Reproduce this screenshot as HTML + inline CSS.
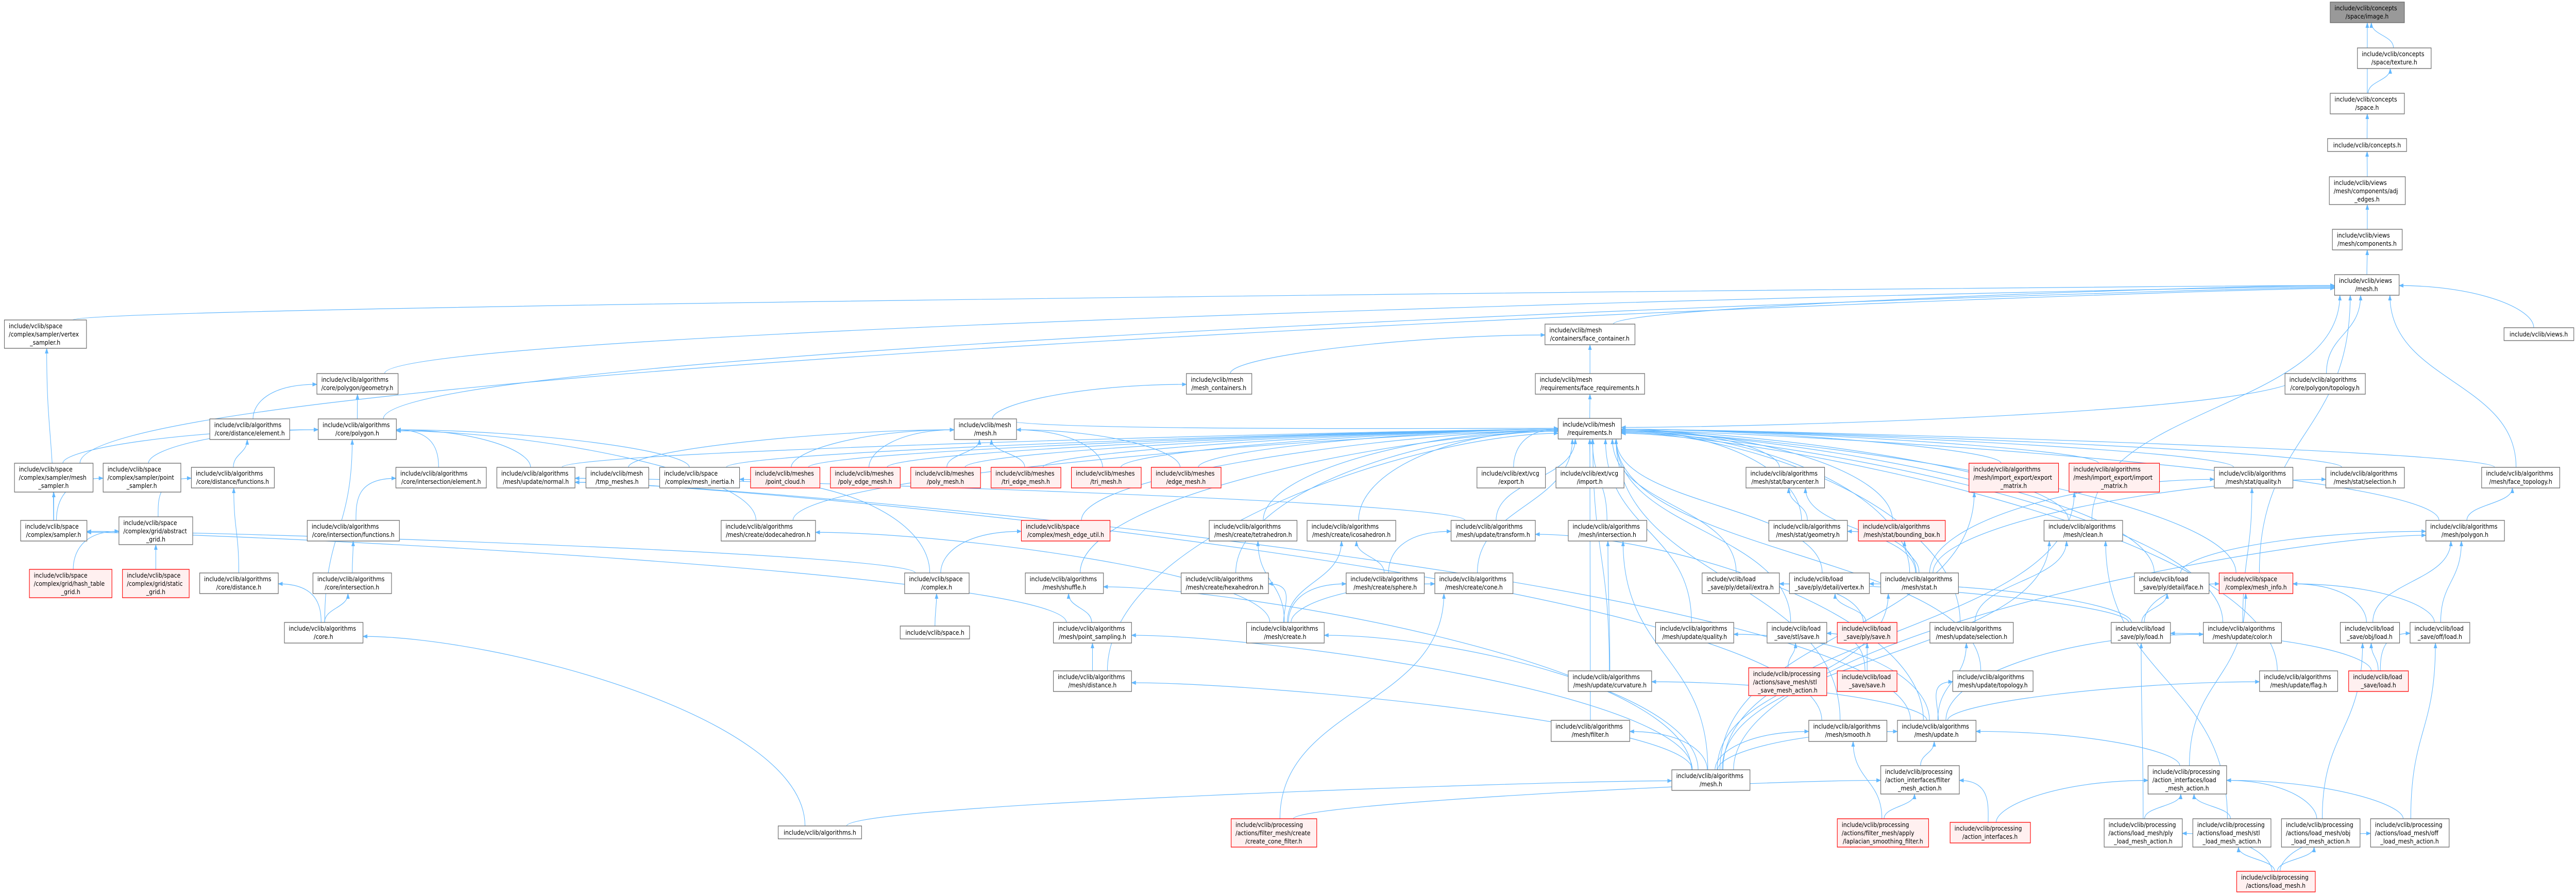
<!DOCTYPE html>
<html><head><meta charset="utf-8"><style>
html,body{margin:0;padding:0;background:#fff;width:100%;height:100%;overflow:hidden}
svg{display:block;position:fixed;left:0;top:0;width:100vw;height:100vh}
text{font-family:"DejaVu Sans","Liberation Sans",sans-serif;font-size:12.8px;fill:#000}
.m{text-anchor:middle}
rect{fill:#fff;stroke:#666;stroke-width:1.3}
.r rect{fill:#fff0f0;stroke:#f00}
.root rect{fill:#999;stroke:#666}
#E path{fill:none;stroke:#63b8ff;stroke-width:1.2}
</style></head><body>
<svg id="S" viewBox="0 0 5869 1737" preserveAspectRatio="none" xmlns="http://www.w3.org/2000/svg" overflow="hidden">
<defs><marker id="a" markerUnits="userSpaceOnUse" markerWidth="11" markerHeight="8" refX="10" refY="4" orient="auto"><path d="M0,0 L11,4 L0,8 z" fill="#63b8ff"/></marker></defs>
<g id="E"></g>
<g id="N">
<g id="image" class="root"><rect x="5309" y="4" width="169" height="40"/><text x="5319" y="21">include/vclib/concepts</text><text class="m" x="5393" y="36">/space/image.h</text></g>
<g id="texture"><rect x="5371" y="93" width="168" height="40"/><text x="5381" y="110">include/vclib/concepts</text><text class="m" x="5455" y="125">/space/texture.h</text></g>
<g id="space"><rect x="5309" y="181" width="169" height="40"/><text x="5319" y="198">include/vclib/concepts</text><text class="m" x="5393" y="213">/space.h</text></g>
<g id="concepts"><rect x="5303" y="269" width="180" height="25"/><text class="m" x="5393" y="286">include/vclib/concepts.h</text></g>
<g id="adj"><rect x="5307" y="343" width="173" height="54"/><text x="5317" y="359">include/vclib/views</text><text x="5317" y="374">/mesh/components/adj</text><text class="m" x="5393" y="389">_edges.h</text></g>
<g id="comps"><rect x="5314" y="445" width="159" height="40"/><text x="5324" y="462">include/vclib/views</text><text class="m" x="5393" y="477">/mesh/components.h</text></g>
<g id="vmesh"><rect x="5319" y="533" width="147" height="40"/><text x="5329" y="550">include/vclib/views</text><text class="m" x="5392" y="565">/mesh.h</text></g>
<g id="views"><rect x="5705" y="636" width="159" height="25"/><text class="m" x="5784" y="653">include/vclib/views.h</text></g>
<g id="vsamp"><rect x="10" y="621" width="187" height="55"/><text x="20" y="638">include/vclib/space</text><text x="20" y="653">/complex/sampler/vertex</text><text class="m" x="103" y="668">_sampler.h</text></g>
<g id="fcont"><rect x="3520" y="629" width="205" height="40"/><text x="3530" y="646">include/vclib/mesh</text><text class="m" x="3622" y="661">/containers/face_container.h</text></g>
<g id="pgeom"><rect x="722" y="725" width="185" height="40"/><text x="732" y="742">include/vclib/algorithms</text><text class="m" x="814" y="757">/core/polygon/geometry.h</text></g>
<g id="mcont"><rect x="2703" y="725" width="149" height="40"/><text x="2713" y="742">include/vclib/mesh</text><text class="m" x="2777" y="757">/mesh_containers.h</text></g>
<g id="freq"><rect x="3498" y="725" width="249" height="40"/><text x="3508" y="742">include/vclib/mesh</text><text class="m" x="3622" y="757">/requirements/face_requirements.h</text></g>
<g id="ptopo"><rect x="5206" y="725" width="183" height="40"/><text x="5216" y="742">include/vclib/algorithms</text><text class="m" x="5297" y="757">/core/polygon/topology.h</text></g>
<g id="delem"><rect x="478" y="813" width="182" height="40"/><text x="488" y="830">include/vclib/algorithms</text><text class="m" x="569" y="845">/core/distance/element.h</text></g>
<g id="cpoly"><rect x="725" y="813" width="178" height="40"/><text x="735" y="830">include/vclib/algorithms</text><text class="m" x="814" y="845">/core/polygon.h</text></g>
<g id="mmesh"><rect x="2174" y="813" width="142" height="40"/><text x="2184" y="830">include/vclib/mesh</text><text class="m" x="2245" y="845">/mesh.h</text></g>
<g id="req"><rect x="3550" y="812" width="144" height="40"/><text x="3560" y="830">include/vclib/mesh</text><text class="m" x="3622" y="845">/requirements.h</text></g>

<g id="msamp"><rect x="33" y="899" width="179" height="56"/><text x="43" y="916">include/vclib/space</text><text x="43" y="931">/complex/sampler/mesh</text><text class="m" x="122" y="946">_sampler.h</text></g>
<g id="psamp"><rect x="235" y="899" width="177" height="56"/><text x="245" y="916">include/vclib/space</text><text x="245" y="931">/complex/sampler/point</text><text class="m" x="323" y="946">_sampler.h</text></g>
<g id="dfunc"><rect x="436" y="907" width="189" height="40"/><text x="446" y="924">include/vclib/algorithms</text><text class="m" x="530" y="939">/core/distance/functions.h</text></g>
<g id="ielem"><rect x="902" y="907" width="206" height="40"/><text x="912" y="924">include/vclib/algorithms</text><text class="m" x="1005" y="939">/core/intersection/element.h</text></g>
<g id="unorm"><rect x="1132" y="907" width="178" height="40"/><text x="1142" y="924">include/vclib/algorithms</text><text class="m" x="1221" y="939">/mesh/update/normal.h</text></g>
<g id="tmpm"><rect x="1335" y="907" width="143" height="40"/><text x="1345" y="924">include/vclib/mesh</text><text class="m" x="1406" y="939">/tmp_meshes.h</text></g>
<g id="inertia"><rect x="1503" y="907" width="182" height="40"/><text x="1513" y="924">include/vclib/space</text><text class="m" x="1594" y="939">/complex/mesh_inertia.h</text></g>
<g id="pcloud" class="r"><rect x="1710" y="907" width="158" height="40"/><text x="1720" y="924">include/vclib/meshes</text><text class="m" x="1789" y="939">/point_cloud.h</text></g>
<g id="pemesh" class="r"><rect x="1892" y="907" width="159" height="40"/><text x="1902" y="924">include/vclib/meshes</text><text class="m" x="1971" y="939">/poly_edge_mesh.h</text></g>
<g id="pmesh" class="r"><rect x="2075" y="907" width="159" height="40"/><text x="2085" y="924">include/vclib/meshes</text><text class="m" x="2154" y="939">/poly_mesh.h</text></g>
<g id="temesh" class="r"><rect x="2258" y="907" width="159" height="40"/><text x="2268" y="924">include/vclib/meshes</text><text class="m" x="2337" y="939">/tri_edge_mesh.h</text></g>
<g id="tmesh" class="r"><rect x="2441" y="907" width="159" height="40"/><text x="2451" y="924">include/vclib/meshes</text><text class="m" x="2520" y="939">/tri_mesh.h</text></g>
<g id="emesh" class="r"><rect x="2623" y="907" width="159" height="40"/><text x="2633" y="924">include/vclib/meshes</text><text class="m" x="2702" y="939">/edge_mesh.h</text></g>
<g id="export"><rect x="3365" y="907" width="156" height="40"/><text x="3375" y="924">include/vclib/ext/vcg</text><text class="m" x="3443" y="939">/export.h</text></g>
<g id="import"><rect x="3545" y="907" width="155" height="40"/><text x="3555" y="924">include/vclib/ext/vcg</text><text class="m" x="3622" y="939">/import.h</text></g>
<g id="bary"><rect x="3978" y="907" width="179" height="40"/><text x="3988" y="924">include/vclib/algorithms</text><text class="m" x="4067" y="939">/mesh/stat/barycenter.h</text></g>
<g id="expm" class="r"><rect x="4486" y="899" width="204" height="56"/><text x="4496" y="916">include/vclib/algorithms</text><text x="4496" y="931">/mesh/import_export/export</text><text class="m" x="4588" y="946">_matrix.h</text></g>
<g id="impm" class="r"><rect x="4714" y="899" width="206" height="56"/><text x="4724" y="916">include/vclib/algorithms</text><text x="4724" y="931">/mesh/import_export/import</text><text class="m" x="4817" y="946">_matrix.h</text></g>
<g id="squal"><rect x="5045" y="907" width="179" height="40"/><text x="5055" y="924">include/vclib/algorithms</text><text class="m" x="5134" y="939">/mesh/stat/quality.h</text></g>
<g id="ssel"><rect x="5299" y="907" width="179" height="40"/><text x="5309" y="924">include/vclib/algorithms</text><text class="m" x="5388" y="939">/mesh/stat/selection.h</text></g>
<g id="ftopo"><rect x="5654" y="907" width="178" height="40"/><text x="5664" y="924">include/vclib/algorithms</text><text class="m" x="5743" y="939">/mesh/face_topology.h</text></g>

<g id="sampler"><rect x="47" y="1010" width="151" height="40"/><text x="57" y="1027">include/vclib/space</text><text class="m" x="122" y="1042">/complex/sampler.h</text></g>
<g id="agrid"><rect x="271" y="1003" width="168" height="54"/><text x="281" y="1019">include/vclib/space</text><text x="281" y="1034">/complex/grid/abstract</text><text class="m" x="355" y="1049">_grid.h</text></g>
<g id="ifunc"><rect x="700" y="1010" width="210" height="40"/><text x="710" y="1027">include/vclib/algorithms</text><text class="m" x="805" y="1042">/core/intersection/functions.h</text></g>
<g id="dodeca"><rect x="1643" y="1010" width="215" height="40"/><text x="1653" y="1027">include/vclib/algorithms</text><text class="m" x="1750" y="1042">/mesh/create/dodecahedron.h</text></g>
<g id="medge" class="r"><rect x="2327" y="1010" width="202" height="40"/><text x="2337" y="1027">include/vclib/space</text><text class="m" x="2428" y="1042">/complex/mesh_edge_util.h</text></g>
<g id="tetra"><rect x="2755" y="1010" width="200" height="40"/><text x="2765" y="1027">include/vclib/algorithms</text><text class="m" x="2855" y="1042">/mesh/create/tetrahedron.h</text></g>
<g id="icosa"><rect x="2978" y="1010" width="202" height="40"/><text x="2988" y="1027">include/vclib/algorithms</text><text class="m" x="3079" y="1042">/mesh/create/icosahedron.h</text></g>
<g id="utrans"><rect x="3306" y="1010" width="192" height="40"/><text x="3316" y="1027">include/vclib/algorithms</text><text class="m" x="3402" y="1042">/mesh/update/transform.h</text></g>
<g id="minter"><rect x="3573" y="1010" width="179" height="40"/><text x="3583" y="1027">include/vclib/algorithms</text><text class="m" x="3662" y="1042">/mesh/intersection.h</text></g>
<g id="sgeom"><rect x="4030" y="1010" width="179" height="40"/><text x="4040" y="1027">include/vclib/algorithms</text><text class="m" x="4119" y="1042">/mesh/stat/geometry.h</text></g>
<g id="bbox" class="r"><rect x="4234" y="1010" width="198" height="40"/><text x="4244" y="1027">include/vclib/algorithms</text><text class="m" x="4333" y="1042">/mesh/stat/bounding_box.h</text></g>
<g id="clean"><rect x="4657" y="1010" width="179" height="40"/><text x="4667" y="1027">include/vclib/algorithms</text><text class="m" x="4746" y="1042">/mesh/clean.h</text></g>
<g id="mpoly"><rect x="5527" y="1010" width="179" height="40"/><text x="5537" y="1027">include/vclib/algorithms</text><text class="m" x="5616" y="1042">/mesh/polygon.h</text></g>

<g id="hgrid" class="r"><rect x="67" y="1105" width="188" height="55"/><text x="77" y="1121">include/vclib/space</text><text x="77" y="1136">/complex/grid/hash_table</text><text class="m" x="161" y="1151">_grid.h</text></g>
<g id="sgrid" class="r"><rect x="279" y="1105" width="152" height="55"/><text x="289" y="1121">include/vclib/space</text><text x="289" y="1136">/complex/grid/static</text><text class="m" x="355" y="1151">_grid.h</text></g>
<g id="cdist"><rect x="455" y="1112" width="179" height="40"/><text x="465" y="1129">include/vclib/algorithms</text><text class="m" x="544" y="1144">/core/distance.h</text></g>
<g id="cinter"><rect x="713" y="1112" width="179" height="40"/><text x="723" y="1129">include/vclib/algorithms</text><text class="m" x="802" y="1144">/core/intersection.h</text></g>
<g id="complex"><rect x="2061" y="1112" width="147" height="40"/><text x="2071" y="1129">include/vclib/space</text><text class="m" x="2134" y="1144">/complex.h</text></g>
<g id="shuffle"><rect x="2336" y="1112" width="178" height="40"/><text x="2346" y="1129">include/vclib/algorithms</text><text class="m" x="2425" y="1144">/mesh/shuffle.h</text></g>
<g id="hexa"><rect x="2691" y="1112" width="199" height="40"/><text x="2701" y="1129">include/vclib/algorithms</text><text class="m" x="2790" y="1144">/mesh/create/hexahedron.h</text></g>
<g id="sphere"><rect x="3067" y="1112" width="178" height="40"/><text x="3077" y="1129">include/vclib/algorithms</text><text class="m" x="3156" y="1144">/mesh/create/sphere.h</text></g>
<g id="cone"><rect x="3269" y="1112" width="178" height="40"/><text x="3279" y="1129">include/vclib/algorithms</text><text class="m" x="3358" y="1144">/mesh/create/cone.h</text></g>
<g id="pextra"><rect x="3878" y="1112" width="176" height="40"/><text x="3888" y="1129">include/vclib/load</text><text class="m" x="3966" y="1144">_save/ply/detail/extra.h</text></g>
<g id="pvert"><rect x="4077" y="1112" width="182" height="40"/><text x="4087" y="1129">include/vclib/load</text><text class="m" x="4168" y="1144">_save/ply/detail/vertex.h</text></g>
<g id="stat"><rect x="4285" y="1112" width="177" height="40"/><text x="4295" y="1129">include/vclib/algorithms</text><text class="m" x="4373" y="1144">/mesh/stat.h</text></g>
<g id="pface"><rect x="4863" y="1112" width="170" height="40"/><text x="4873" y="1129">include/vclib/load</text><text class="m" x="4948" y="1144">_save/ply/detail/face.h</text></g>
<g id="minfo" class="r"><rect x="5056" y="1112" width="168" height="40"/><text x="5066" y="1129">include/vclib/space</text><text class="m" x="5140" y="1144">/complex/mesh_info.h</text></g>

<g id="core"><rect x="648" y="1208" width="179" height="40"/><text x="658" y="1225">include/vclib/algorithms</text><text class="m" x="737" y="1240">/core.h</text></g>
<g id="spaceh"><rect x="2051" y="1215" width="158" height="25"/><text class="m" x="2130" y="1232">include/vclib/space.h</text></g>
<g id="psampling"><rect x="2400" y="1208" width="178" height="40"/><text x="2410" y="1225">include/vclib/algorithms</text><text class="m" x="2489" y="1240">/mesh/point_sampling.h</text></g>
<g id="create"><rect x="2840" y="1208" width="177" height="40"/><text x="2850" y="1225">include/vclib/algorithms</text><text class="m" x="2928" y="1240">/mesh/create.h</text></g>
<g id="uqual"><rect x="3772" y="1208" width="178" height="40"/><text x="3782" y="1225">include/vclib/algorithms</text><text class="m" x="3861" y="1240">/mesh/update/quality.h</text></g>
<g id="stlsave"><rect x="4026" y="1208" width="136" height="40"/><text x="4036" y="1225">include/vclib/load</text><text class="m" x="4094" y="1240">_save/stl/save.h</text></g>
<g id="plysave" class="r"><rect x="4186" y="1208" width="136" height="40"/><text x="4196" y="1225">include/vclib/load</text><text class="m" x="4254" y="1240">_save/ply/save.h</text></g>
<g id="usel"><rect x="4397" y="1208" width="190" height="40"/><text x="4407" y="1225">include/vclib/algorithms</text><text class="m" x="4492" y="1240">/mesh/update/selection.h</text></g>
<g id="plyload"><rect x="4810" y="1208" width="135" height="40"/><text x="4820" y="1225">include/vclib/load</text><text class="m" x="4877" y="1240">_save/ply/load.h</text></g>
<g id="ucolor"><rect x="5020" y="1208" width="178" height="40"/><text x="5030" y="1225">include/vclib/algorithms</text><text class="m" x="5109" y="1240">/mesh/update/color.h</text></g>
<g id="objload"><rect x="5332" y="1208" width="135" height="40"/><text x="5342" y="1225">include/vclib/load</text><text class="m" x="5399" y="1240">_save/obj/load.h</text></g>
<g id="offload"><rect x="5491" y="1208" width="136" height="40"/><text x="5501" y="1225">include/vclib/load</text><text class="m" x="5559" y="1240">_save/off/load.h</text></g>

<g id="mdist"><rect x="2400" y="1302" width="178" height="40"/><text x="2410" y="1319">include/vclib/algorithms</text><text class="m" x="2489" y="1334">/mesh/distance.h</text></g>
<g id="curv"><rect x="3573" y="1302" width="190" height="40"/><text x="3583" y="1319">include/vclib/algorithms</text><text class="m" x="3668" y="1334">/mesh/update/curvature.h</text></g>
<g id="smact" class="r"><rect x="3984" y="1296" width="178" height="54"/><text x="3994" y="1312">include/vclib/processing</text><text x="3994" y="1327">/actions/save_mesh/stl</text><text class="m" x="4073" y="1342">_save_mesh_action.h</text></g>
<g id="saveh" class="r"><rect x="4186" y="1302" width="136" height="40"/><text x="4196" y="1319">include/vclib/load</text><text class="m" x="4254" y="1334">_save/save.h</text></g>
<g id="utopo"><rect x="4449" y="1302" width="183" height="40"/><text x="4459" y="1319">include/vclib/algorithms</text><text class="m" x="4540" y="1334">/mesh/update/topology.h</text></g>
<g id="uflag"><rect x="5148" y="1302" width="178" height="40"/><text x="5158" y="1319">include/vclib/algorithms</text><text class="m" x="5237" y="1334">/mesh/update/flag.h</text></g>
<g id="loadh" class="r"><rect x="5351" y="1302" width="136" height="40"/><text x="5361" y="1319">include/vclib/load</text><text class="m" x="5419" y="1334">_save/load.h</text></g>

<g id="filter"><rect x="3534" y="1398" width="179" height="41"/><text x="3544" y="1415">include/vclib/algorithms</text><text class="m" x="3623" y="1430">/mesh/filter.h</text></g>
<g id="smooth"><rect x="4121" y="1398" width="178" height="41"/><text x="4131" y="1415">include/vclib/algorithms</text><text class="m" x="4210" y="1430">/mesh/smooth.h</text></g>
<g id="update"><rect x="4323" y="1398" width="179" height="41"/><text x="4333" y="1415">include/vclib/algorithms</text><text class="m" x="4412" y="1430">/mesh/update.h</text></g>

<g id="amesh"><rect x="3809" y="1494" width="178" height="40"/><text x="3819" y="1511">include/vclib/algorithms</text><text class="m" x="3898" y="1526">/mesh.h</text></g>
<g id="fma"><rect x="4285" y="1486" width="179" height="55"/><text x="4295" y="1502">include/vclib/processing</text><text x="4295" y="1517">/action_interfaces/filter</text><text class="m" x="4374" y="1532">_mesh_action.h</text></g>
<g id="lma"><rect x="4894" y="1486" width="179" height="55"/><text x="4904" y="1502">include/vclib/processing</text><text x="4904" y="1517">/action_interfaces/load</text><text class="m" x="4983" y="1532">_mesh_action.h</text></g>

<g id="algs"><rect x="1773" y="1603" width="190" height="25"/><text class="m" x="1868" y="1620">include/vclib/algorithms.h</text></g>
<g id="ccf" class="r"><rect x="2805" y="1589" width="195" height="55"/><text x="2815" y="1605">include/vclib/processing</text><text x="2815" y="1620">/actions/filter_mesh/create</text><text class="m" x="2902" y="1635">/create_cone_filter.h</text></g>
<g id="lap" class="r"><rect x="4186" y="1589" width="208" height="55"/><text x="4196" y="1605">include/vclib/processing</text><text x="4196" y="1620">/actions/filter_mesh/apply</text><text class="m" x="4290" y="1635">/laplacian_smoothing_filter.h</text></g>
<g id="ai" class="r"><rect x="4443" y="1596" width="183" height="40"/><text x="4453" y="1613">include/vclib/processing</text><text class="m" x="4534" y="1628">/action_interfaces.h</text></g>
<g id="plma"><rect x="4794" y="1589" width="178" height="55"/><text x="4804" y="1605">include/vclib/processing</text><text x="4804" y="1620">/actions/load_mesh/ply</text><text class="m" x="4883" y="1635">_load_mesh_action.h</text></g>
<g id="stlma"><rect x="4996" y="1589" width="178" height="55"/><text x="5006" y="1605">include/vclib/processing</text><text x="5006" y="1620">/actions/load_mesh/stl</text><text class="m" x="5085" y="1635">_load_mesh_action.h</text></g>
<g id="objma"><rect x="5198" y="1589" width="179" height="55"/><text x="5208" y="1605">include/vclib/processing</text><text x="5208" y="1620">/actions/load_mesh/obj</text><text class="m" x="5287" y="1635">_load_mesh_action.h</text></g>
<g id="offma"><rect x="5401" y="1589" width="179" height="55"/><text x="5411" y="1605">include/vclib/processing</text><text x="5411" y="1620">/actions/load_mesh/off</text><text class="m" x="5490" y="1635">_load_mesh_action.h</text></g>
<g id="lmesh" class="r"><rect x="5096" y="1691" width="179" height="40"/><text x="5106" y="1708">include/vclib/processing</text><text class="m" x="5185" y="1723">/actions/load_mesh.h</text></g>
</g>
</svg>
<script>
var E=`texture image;space image;space texture;concepts space;adj concepts;comps adj;vmesh comps;views vmesh;
vsamp vmesh;fcont vmesh;pgeom vmesh;ptopo vmesh;cpoly vmesh;mcont fcont;freq fcont;req freq;mmesh mcont;cpoly pgeom;delem pgeom;
msamp cpoly;psamp cpoly;msamp vmesh;sampler msamp;sampler psamp;sampler vsamp;dfunc delem;agrid dfunc;hgrid agrid;sgrid agrid;cdist dfunc;
ifunc ielem;cinter ifunc;core cdist;core cinter;core cpoly;ielem cpoly;unorm cpoly;unorm req;tmpm mmesh;inertia cpoly;inertia req;
pcloud mmesh;pemesh mmesh;pmesh mmesh;temesh mmesh;tmesh mmesh;emesh mmesh;pcloud req;pemesh req;pmesh req;temesh req;tmesh req;emesh req;
complex inertia;complex medge;complex sampler;spaceh complex;medge req;shuffle req;psampling shuffle;psampling sampler;mdist psampling;mdist req;
dodeca cpoly;dodeca req;create dodeca;create hexa;create tetra;create icosa;create sphere;create cone;hexa req;tetra req;icosa req;
sphere icosa;sphere utrans;cone req;utrans req;utrans unorm;minter req;export req;import req;bary req;sgeom bary;bbox req;
stat sgeom;stat bbox;stat bary;stat squal;stat ssel;squal req;ssel req;ftopo vmesh;ftopo req;mpoly ftopo;mpoly req;clean req;clean vmesh;
expm req;impm req;pextra req;pvert req;plysave pextra;plysave pvert;stlsave req;saveh plysave;saveh stlsave;smact stlsave;uqual req;
curv req;curv minter;filter req;smooth req;update curv;update uqual;update usel;update utopo;update uflag;update ucolor;update unorm;update utrans;
usel clean;usel req;utopo req;uflag req;ucolor req;ucolor squal;amesh filter;amesh smooth;amesh update;amesh stat;amesh create;amesh psampling;
amesh mdist;amesh clean;amesh mpoly;amesh shuffle;amesh minter;algs core;algs amesh;fma update;lap smooth;lap fma;ai fma;ai lma;ccf cone;ccf fma;
lma update;lma minfo;plma lma;plma plyload;stlma lma;stlma clean;objma lma;objma objload;offma lma;offma offload;lmesh plma;lmesh stlma;lmesh objma;lmesh offma;
plyload pface;plyload minfo;plyload pvert;plyload pextra;objload minfo;objload mpoly;offload minfo;offload mpoly;loadh plyload;loadh objload;loadh offload;
pface req;pface mpoly;minfo req;minfo vmesh;ptopo req;mmesh req;sgeom req;stat req;smooth unorm;amesh expm;amesh impm`;
function B(id){var r=document.querySelector('#'+id+' rect');var x=+r.getAttribute('x'),y=+r.getAttribute('y'),w=+r.getAttribute('width'),h=+r.getAttribute('height');return {x1:x,x2:x+w,y1:y,y2:y+h,cx:x+w/2,cy:y+h/2,w:w,h:h};}
document.querySelectorAll('#N > g').forEach(function(g){var r=g.querySelector('rect'),t=g.querySelectorAll('text'),y=+r.getAttribute('y');
for(var i=0;i<t.length;i++){t[i].setAttribute('y',t.length==1?y+17:y+16+16*i);}});
var g=document.getElementById('E'),out='';
E.replace(/\n/g,'').split(';').forEach(function(s){s=s.trim();if(!s)return;var p=s.split(/\s+/);var c=B(p[0]),q=B(p[1]);
var dx=c.cx-q.cx,dy=c.y1-q.y2,sx=c.cx+Math.max(-c.w/3,Math.min(c.w/3,-dx*0.03)),sy=c.y1,ex,ey,d;
if(Math.abs(dx)>dy*2.2 && (c.cx<q.x1||c.cx>q.x2)){ex=dx<0?q.x1:q.x2;ey=q.cy+Math.max(-12,Math.min(12,dy*0.02));
var k=Math.min(Math.abs(dx)*0.45,300);var cx2=ex+(dx<0?-k:k);if(cx2>5860)cx2=5860;d='M'+sx+','+sy+' C'+sx+','+(sy-dy*0.6)+' '+cx2+','+ey+' '+ex+','+ey;}
else{ex=q.cx+Math.max(-q.w/2+12,Math.min(q.w/2-12,dx*0.15));ey=q.y2;d='M'+sx+','+sy+' C'+sx+','+(sy-dy*0.5)+' '+ex+','+(ey+dy*0.5)+' '+ex+','+ey;}
out+='<path d="'+d+'" marker-end="url(#a)"/>';});
g.innerHTML=out;
</script>
</body></html>
